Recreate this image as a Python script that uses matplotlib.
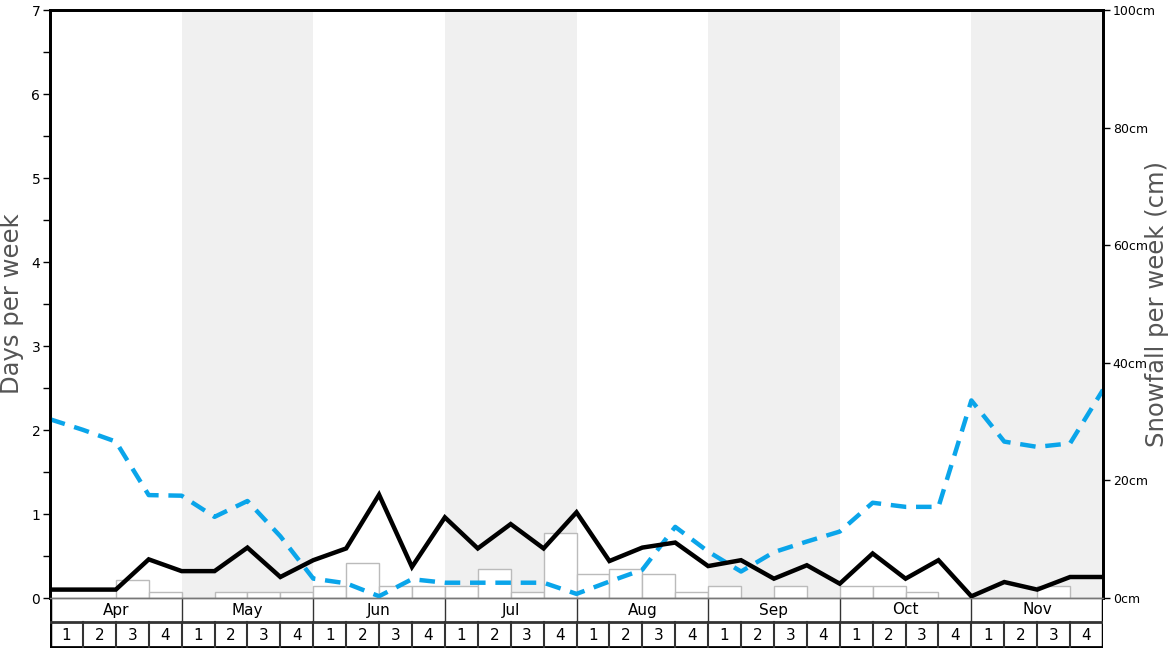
import matplotlib
matplotlib.use("Agg")
import matplotlib.pyplot as plt
import numpy as np

# months shown along the bottom, 4 weeks each
months = ["Apr", "May", "Jun", "Jul", "Aug", "Sep", "Oct", "Nov"]
weekLabels = ["1", "2", "3", "4"]

# weekly snowfall bars (cm)
snowfallCm = [0, 0, 3, 1, 0, 1, 1, 1,
              2, 6, 2, 2, 2, 5, 1, 11,
              4, 5, 4, 1, 2, 0, 2, 0,
              2, 2, 1, 0, 0, 0, 2, 0]

# snow days per week (black line, values on the week boundaries)
snowDays = [0.10, 0.10, 0.10, 0.46, 0.32, 0.32, 0.60, 0.25,
            0.45, 0.59, 1.23, 0.37, 0.96, 0.59, 0.88, 0.59,
            1.02, 0.44, 0.60, 0.66, 0.38, 0.45, 0.23, 0.39,
            0.17, 0.53, 0.23, 0.45, 0.02, 0.19, 0.10, 0.25, 0.25]

# blue dashed line (cm, on the week boundaries)
blueCm = [30.4, 28.6, 26.6, 17.5, 17.4, 13.8, 16.5, 10.5,
          3.3, 2.5, 0.3, 3.2, 2.6, 2.6, 2.6, 2.6,
          0.7, 2.8, 4.8, 12.1, 7.9, 4.5, 7.8, 9.6,
          11.3, 16.2, 15.5, 15.5, 33.6, 26.6, 25.7, 26.3, 35.4]

nWeeks = len(months) * 4
W, H = 1168, 648
fig = plt.figure(figsize=(W / 100, H / 100), dpi=100)

L, R, T, B = 50, 1103, 10, 598
ax = fig.add_axes([L / W, 1 - B / H, (R - L) / W, (B - T) / H])
ax2 = ax.twinx()
ax.set_zorder(2)
ax2.set_zorder(1)
ax.patch.set_visible(False)

# shading for every other month
for i in range(len(months)):
    if i % 2 == 1:
        ax2.axvspan(i * 4, i * 4 + 4, color="#f0f0f0", lw=0, zorder=0)

ax2.bar(np.arange(nWeeks), snowfallCm, width=1, align="edge",
        color="white", edgecolor="#bbbbbb", linewidth=1, zorder=2)
ax2.plot(np.arange(len(blueCm)), blueCm, color="#0aa5ea", lw=3.2,
         linestyle=(0, (3.5, 2.2)), zorder=3)
ax.plot(np.arange(len(snowDays)), snowDays, color="black", lw=3.2,
        solid_joinstyle="miter", zorder=4)

ax.set_xlim(0, nWeeks)
ax.set_ylim(0, 7)
ax2.set_ylim(0, 100)
ax.set_xticks([])
ax2.set_xticks([])

ax.set_yticks(range(8))
ax.set_yticks(np.arange(0.5, 7, 1), minor=True)
ax.tick_params(axis="y", which="both", length=5, width=1, labelsize=10, pad=2)
ax2.set_yticks(range(0, 101, 20))
ax2.set_yticklabels([f"{v}cm" for v in range(0, 101, 20)])
ax2.tick_params(axis="y", length=5, width=1, labelsize=9, pad=2)

ax.set_ylabel("Days per week", fontsize=17.5, color="#555555", labelpad=5)
ax2.set_ylabel("Snowfall per week (cm)", fontsize=17.5, color="#555555", labelpad=-8)

for a in (ax, ax2):
    a.spines["left"].set_linewidth(2)
    a.spines["right"].set_linewidth(2)
    a.spines["top"].set_linewidth(2)
    a.spines["bottom"].set_linewidth(1)
    a.spines["bottom"].set_color("#777777")

# month / week table below the plot
tb = fig.add_axes([L / W, 0, (R - L) / W, (H - B) / H])
tb.set_xlim(0, nWeeks)
tb.set_ylim(0, 50)
tb.axis("off")
tb.plot([0, 0], [0, 50], color="black", lw=2.5)
tb.plot([nWeeks, nWeeks], [0, 50], color="black", lw=2.5)
tb.plot([0, nWeeks], [26, 26], color="#333333", lw=2)
tb.plot([0, nWeeks], [1, 1], color="black", lw=2)
for i, m in enumerate(months):
    tb.text(i * 4 + 2, 38, m, ha="center", va="center", fontsize=11)
    if i > 0:
        tb.plot([i * 4, i * 4], [26, 50], color="#333333", lw=1)
    for j, w in enumerate(weekLabels):
        k = i * 4 + j
        tb.text(k + 0.5, 13, w, ha="center", va="center", fontsize=11)
        if k > 0:
            tb.plot([k, k], [0, 26], color="#333333", lw=1.5)

fig.savefig("out.png", dpi=100)
